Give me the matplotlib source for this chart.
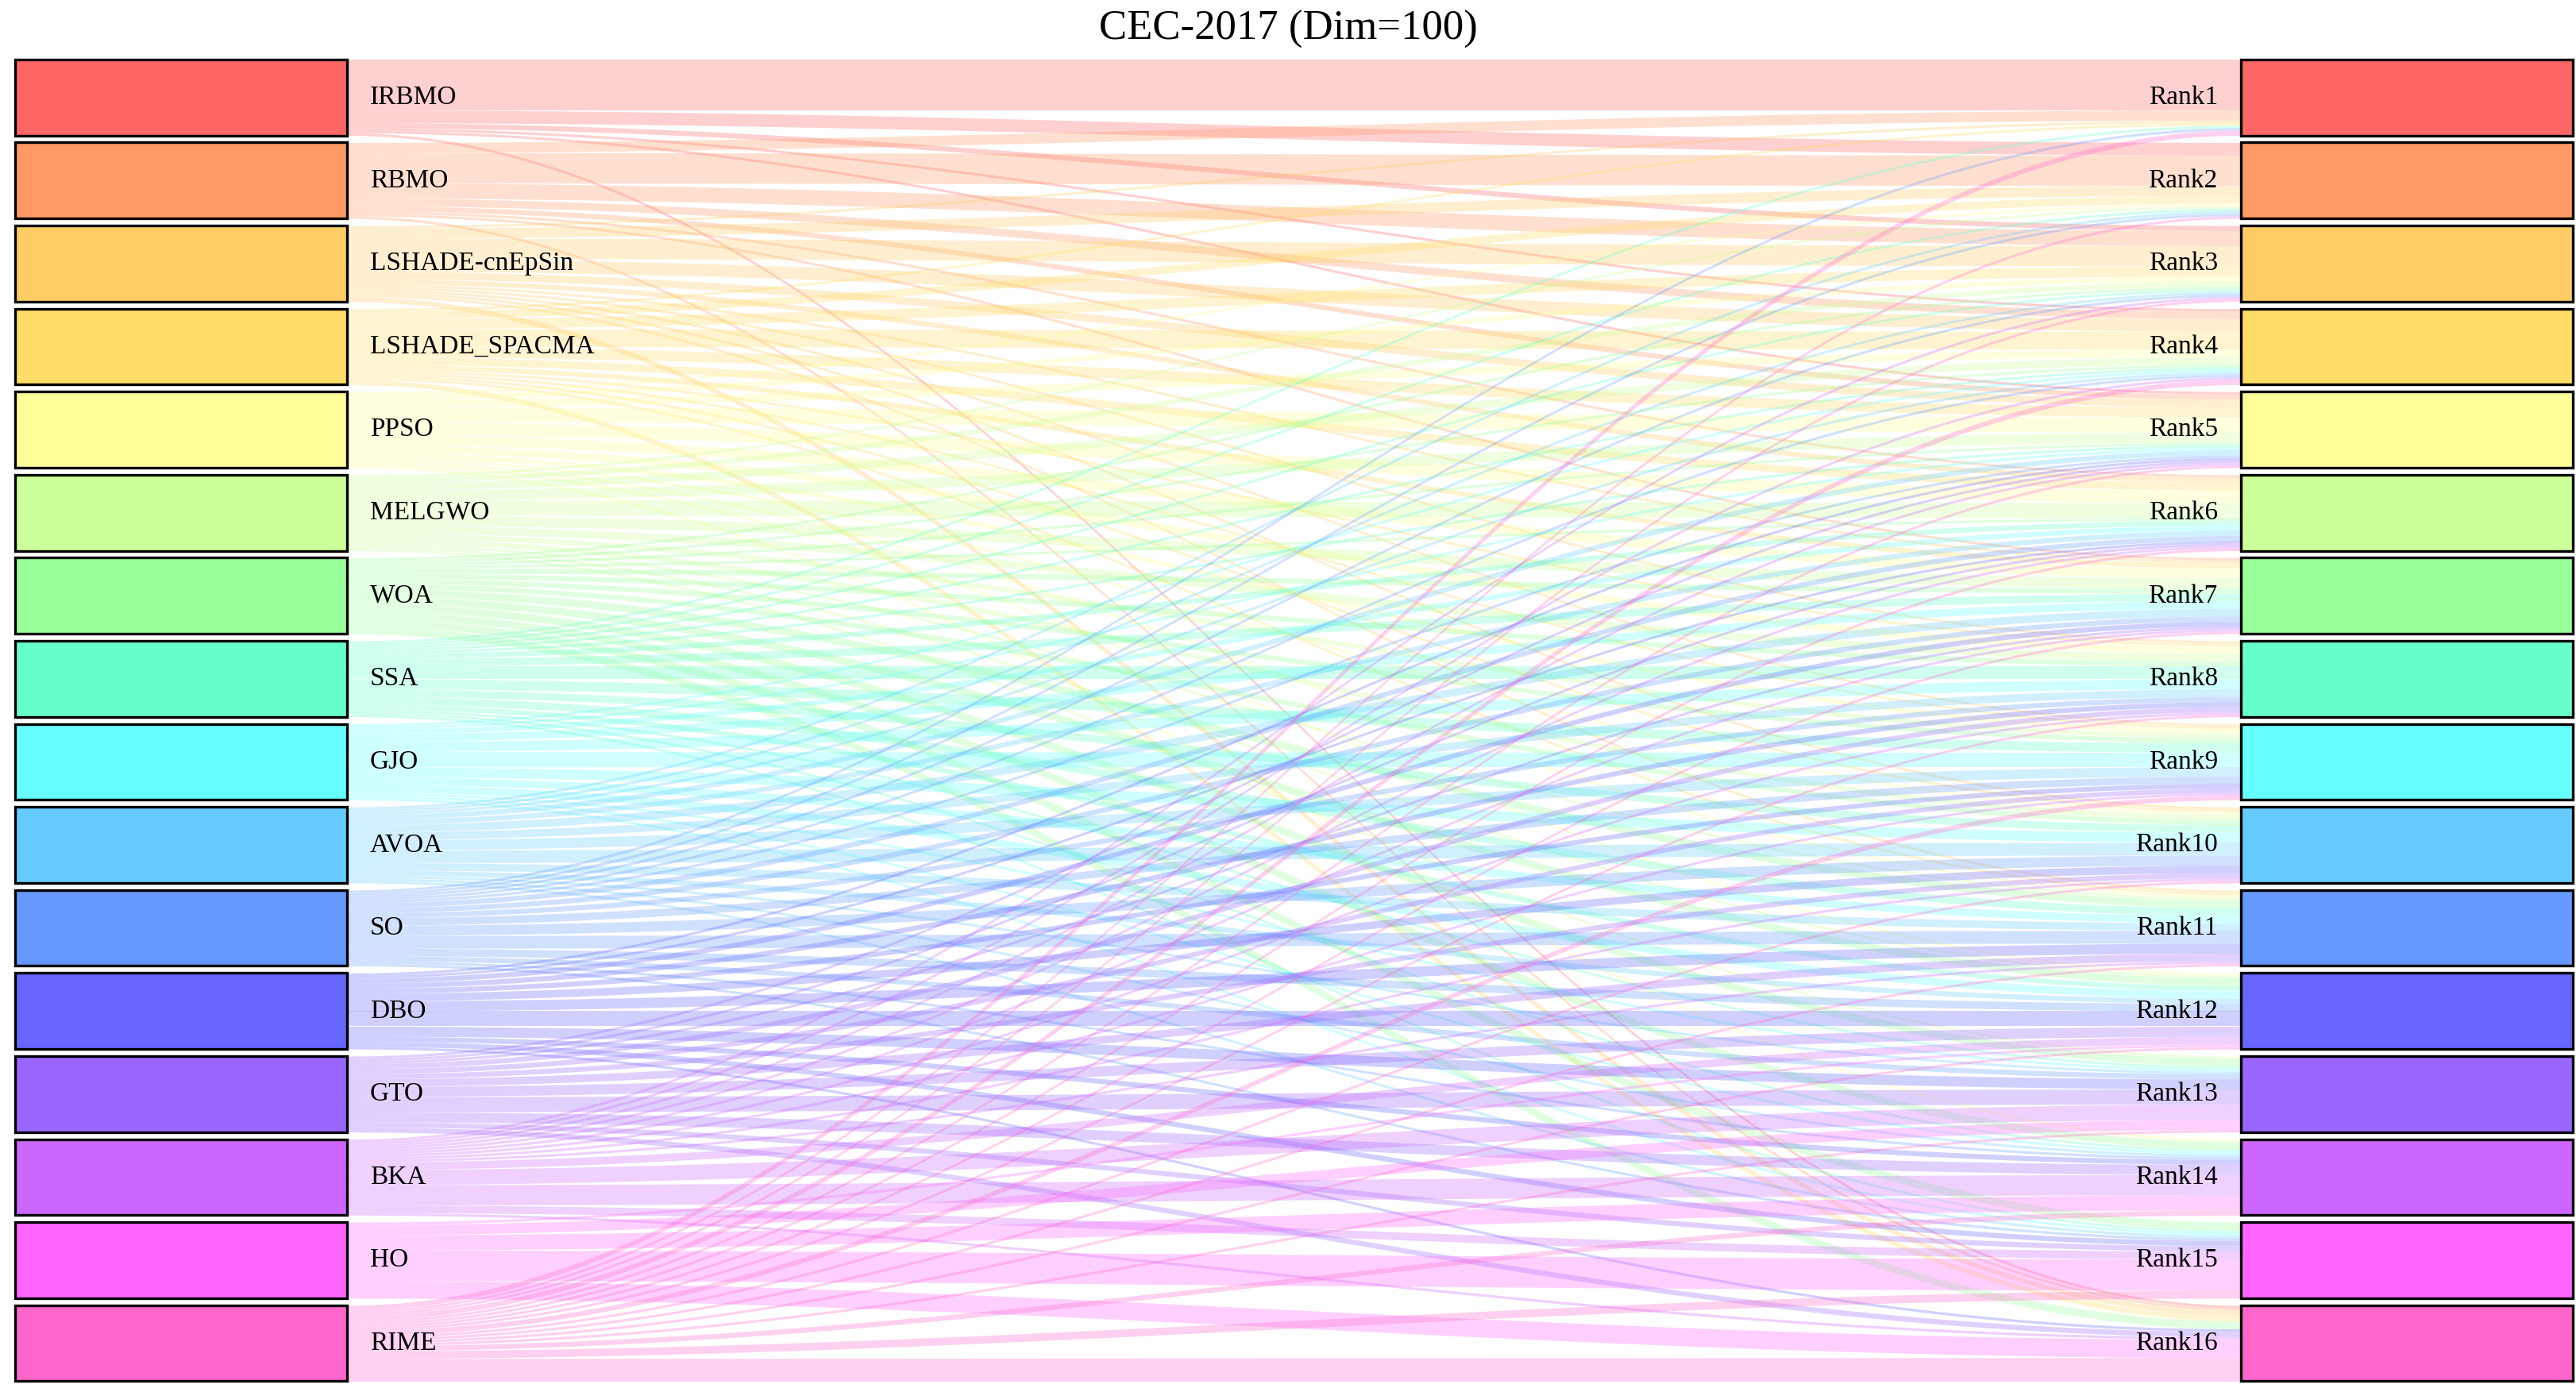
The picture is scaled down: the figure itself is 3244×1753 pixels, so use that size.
import matplotlib.pyplot as plt
import numpy as np
from matplotlib.patches import Rectangle

algorithms = ["IRBMO", "RBMO", "LSHADE-cnEpSin", "LSHADE_SPACMA", "PPSO", "MELGWO", "WOA", "SSA",
              "GJO", "AVOA", "SO", "DBO", "GTO", "BKA", "HO", "RIME"]
ranks = ["Rank%d" % (i + 1) for i in range(16)]
node_colors = ["#FF6666", "#FF9966", "#FFCC66", "#FFDD66", "#FFFF99", "#CCFF99", "#99FF99", "#66FFCC",
               "#66FFFF", "#66CCFF", "#6699FF", "#6666FF", "#9966FF", "#CC66FF", "#FF66FF", "#FF66CC"]

# how many times each algorithm got each rank (estimated)
counts = [
    [20, 5, 2, 1, 1, 0, 0, 0, 0, 0, 0, 0, 0, 0, 0, 1],
    [4, 12, 6, 3, 2, 1, 1, 0, 0, 0, 0, 0, 0, 0, 0, 1],
    [1, 4, 8, 5, 3, 2, 1, 1, 1, 1, 1, 0, 0, 0, 0, 2],
    [1, 3, 4, 7, 4, 3, 2, 1, 1, 1, 1, 0, 0, 0, 0, 2],
    [0, 1, 2, 3, 6, 5, 4, 3, 2, 1, 1, 1, 0, 1, 0, 0],
    [0, 1, 2, 3, 4, 6, 4, 3, 2, 2, 1, 1, 1, 0, 0, 0],
    [0, 0, 1, 1, 1, 1, 2, 2, 2, 2, 3, 3, 3, 3, 3, 3],
    [1, 1, 1, 1, 1, 2, 3, 5, 4, 3, 3, 2, 1, 1, 1, 0],
    [0, 0, 0, 1, 1, 2, 3, 4, 6, 4, 3, 3, 1, 1, 1, 0],
    [0, 1, 1, 1, 2, 2, 3, 3, 4, 5, 3, 2, 1, 1, 1, 0],
    [1, 1, 1, 1, 1, 2, 2, 2, 3, 4, 5, 3, 2, 1, 1, 0],
    [0, 0, 0, 0, 1, 1, 2, 2, 2, 3, 4, 6, 4, 2, 2, 1],
    [0, 0, 0, 0, 1, 1, 1, 2, 2, 2, 3, 4, 6, 4, 2, 2],
    [0, 0, 1, 1, 1, 1, 1, 1, 1, 1, 1, 3, 6, 8, 3, 1],
    [0, 0, 0, 0, 0, 0, 0, 0, 0, 0, 0, 1, 4, 6, 12, 7],
    [2, 1, 1, 2, 1, 1, 1, 1, 2, 1, 1, 1, 1, 2, 3, 9],
]

M = np.array(counts, dtype=float)
n = len(algorithms)

plt.rcParams['font.family'] = ['Liberation Serif', 'DejaVu Serif']
fig = plt.figure(figsize=(16.22, 8.765), dpi=200)
ax = fig.add_axes([0, 0, 1, 1])
ax.set_xlim(0, 1560)
ax.set_ylim(843, 0)
ax.axis('off')

x_left, x_right = 210, 1357
box_w = 201
top, pitch, h = 36, 50.3, 46

row_tot = M.sum(axis=1)
col_tot = M.sum(axis=0)
left_off = np.zeros(n)
right_off = np.zeros(n)
# precompute right offsets in source order
right_start = np.zeros((n, n))
for j in range(n):
    acc = 0
    for i in range(n):
        right_start[i, j] = acc
        acc += M[i, j] / col_tot[j] * h

xs = np.linspace(x_left, x_right, 200)
t = (1 - np.cos(np.pi * (xs - x_left) / (x_right - x_left))) / 2
for i in range(n):
    acc = 0
    for j in range(n):
        if M[i, j] == 0:
            continue
        wl = M[i, j] / row_tot[i] * h
        wr = M[i, j] / col_tot[j] * h
        y0l = top + i * pitch + acc
        y0r = top + j * pitch + right_start[i, j]
        acc += wl
        ytop = y0l + (y0r - y0l) * t
        ybot = (y0l + wl) + ((y0r + wr) - (y0l + wl)) * t
        ax.fill_between(xs, ytop, ybot, color=node_colors[i], alpha=0.3, lw=0)

for i in range(n):
    y = top + i * pitch
    ax.add_patch(Rectangle((9, y), box_w, h, facecolor=node_colors[i], edgecolor='black', lw=1.2))
    ax.add_patch(Rectangle((x_right, y), box_w, h, facecolor=node_colors[i], edgecolor='black', lw=1.2))
    ax.text(224, y + h / 2, algorithms[i], ha='left', va='center', fontsize=12)
    ax.text(1343, y + h / 2, ranks[i], ha='right', va='center', fontsize=12)

ax.text(780, 18, "CEC-2017 (Dim=100)", ha='center', va='center', fontsize=19)

fig.savefig("out.png", dpi=200)
